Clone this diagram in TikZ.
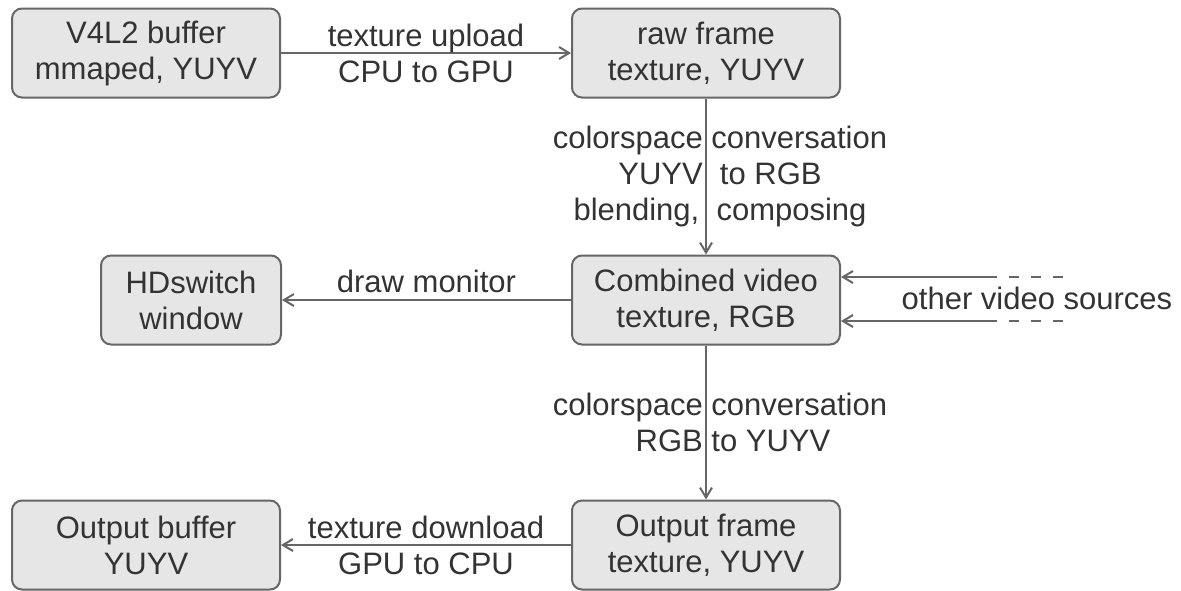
\documentclass[tikz,border=0pt]{standalone}
\usepackage{fontspec}
\setmainfont{Liberation Sans}
\usetikzlibrary{arrows.meta}
\definecolor{boxfill}{HTML}{E6E6E6}
\definecolor{boxline}{HTML}{666666}
\definecolor{txt}{HTML}{333333}

\begin{document}
\begin{tikzpicture}[x=0.5pt,y=-0.5pt,
	every node/.style={font=\fontsize{15.5}{18}\selectfont},
	box/.style={draw=boxline,fill=boxfill,line width=1pt,rounded corners=5pt,
		minimum width=134pt,minimum height=44.5pt,inner sep=0pt,align=center,text=txt},
	flow/.style={draw=boxline,line width=1pt,-{Straight Barb[length=5pt,width=6pt]}},
	lbl/.style={text=txt,align=center}]
			\useasboundingbox (0,0) rectangle (1181,590);
			\node[box] (v4l) at (146,53) {V4L2 buffer\\mmaped, YUYV};
			\node[box] (raw) at (706,53) {raw frame\\texture, YUYV};
			\node[box,minimum width=90pt] (hdsw) at (191,300) {HDswitch\\window};
			\node[box] (comb) at (706,300) {Combined video\\texture, RGB};
			\node[box] (outfr) at (706,545) {Output frame\\texture, YUYV};
			\node[box] (outbuf) at (146,545) {Output buffer\\YUYV};

			\draw[flow] (v4l) -- node[lbl] {texture upload\\CPU to GPU} (raw);
			\draw[flow] (raw) -- node[lbl,xshift=7pt] {colorspace conversation\\YUYV\ \ to RGB\\blending,\ \ composing} (comb);
			\draw[flow] (comb) -- node[lbl,above] {draw monitor} (hdsw);
			\draw[flow] (comb) -- node[lbl,xshift=7pt] {colorspace conversation\\\hspace*{13pt}RGB to YUYV} (outfr);
			\draw[flow] (outfr) -- node[lbl] {texture download\\GPU to CPU} (outbuf);

			% sources from outside: solid up to x=997, dashed on to x=1063
			\coordinate (srcA) at (1063,277);
			\coordinate (srcB) at (1063,321);
			\coordinate (joinA) at (997,277);
			\coordinate (joinB) at (997,321);
			\draw[boxline,line width=1pt,dash pattern=on 5pt off 6pt,dash phase=5pt] (joinA) -- (srcA);
			\draw[boxline,line width=1pt,dash pattern=on 5pt off 6pt,dash phase=5pt] (joinB) -- (srcB);
			\draw[flow] (joinA) -- (joinA -| comb.east);
			\draw[flow] (joinB) -- (joinB -| comb.east);
			\node[lbl] (others) at (1037,298) {other video sources};
		\end{tikzpicture}
\end{document}
